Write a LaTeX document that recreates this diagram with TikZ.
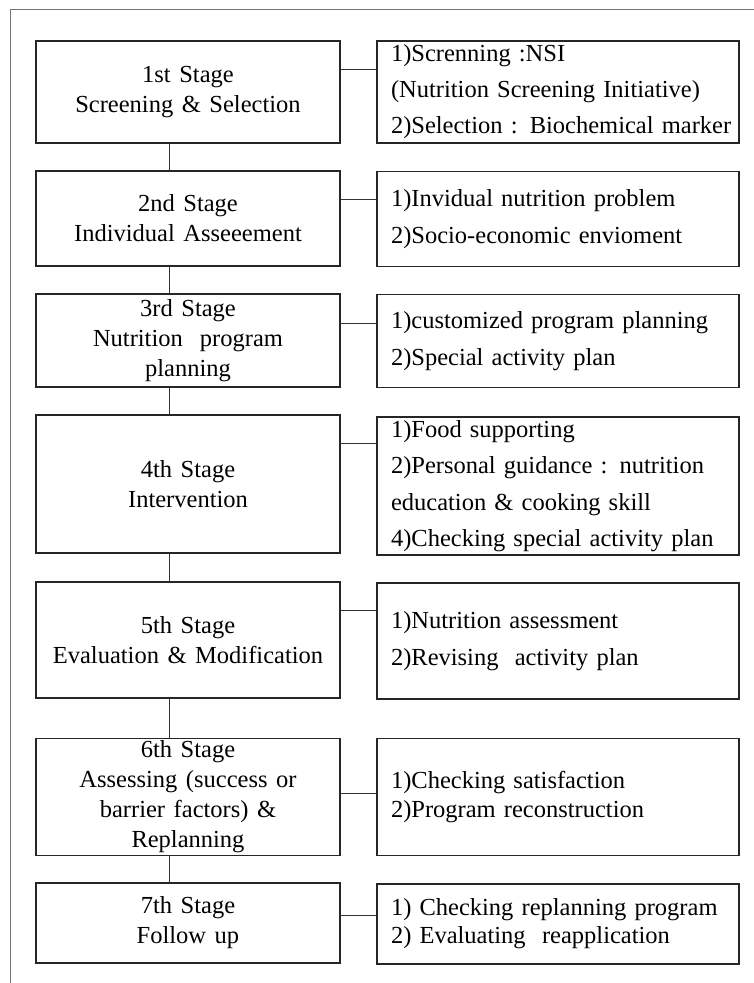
\documentclass[tikz,border=0pt]{standalone}
\usepackage{fontspec}
\setmainfont{Liberation Serif}[WordSpace=1.4]
\begin{document}
\begin{tikzpicture}[x=1pt,y=-1pt,
  stagebox/.style={draw=black!85,line width=1.4pt,minimum width=304pt,inner sep=0pt,align=center,
    font=\fontsize{24.5}{30}\selectfont},
  itembox/.style={draw=black!85,line width=1.4pt,minimum width=362pt,text width=334pt,inner xsep=14pt,inner ysep=0pt,align=left},
  link/.style={draw=black!80,line width=0.9pt},
  frameline/.style={draw=black!55,line width=0.9pt}]
\useasboundingbox (0,0) rectangle (754,983);
\draw[frameline] (10,983) -- (10,9) -- (754,9);
\coordinate (vx) at (169,0);
% left stage boxes
\node[stagebox,minimum height=102pt] (l1) at (188,92) {1st Stage\\Screening \& Selection};
\node[stagebox,minimum height=95pt] (l2) at (188,218.5) {2nd Stage\\Individual Asseeement};
\node[stagebox,minimum height=93pt] (l3) at (188,340.5) {3rd Stage\\Nutrition \ program\\planning};
\node[stagebox,minimum height=138pt] (l4) at (188,484) {4th Stage\\Intervention};
\node[stagebox,minimum height=116pt] (l5) at (188,640) {5th Stage\\Evaluation \& Modification};
\node[stagebox,minimum height=117pt] (l6) at (188,797) {6th Stage\\Assessing (success or\\barrier factors) \&\\Replanning};
\node[stagebox,minimum height=80pt] (l7) at (188,923) {7th Stage\\Follow up};
% right item boxes
\node[itembox,minimum height=102pt,font=\fontsize{24.5}{36}\selectfont] (r1) at (558,92) {1)Screnning :NSI\\(Nutrition Screening Initiative)\\\mbox{2)Selection : Biochemical marker}};
\node[itembox,minimum height=95pt,font=\fontsize{24.5}{37}\selectfont] (r2) at (558,219) {1)Invidual nutrition problem\\2)Socio-economic envioment};
\node[itembox,minimum height=93pt,font=\fontsize{24.5}{37}\selectfont] (r3) at (558,341) {\mbox{1)customized program planning}\\2)Special activity plan};
\node[itembox,minimum height=138pt,font=\fontsize{24.5}{36.5}\selectfont] (r4) at (558,486) {1)Food supporting\\\mbox{2)Personal guidance : nutrition}\\education \& cooking skill\\\mbox{4)Checking special activity plan}};
\node[itembox,minimum height=116pt,font=\fontsize{24.5}{37}\selectfont] (r5) at (558,641) {1)Nutrition assessment\\2)Revising \ activity plan};
\node[itembox,minimum height=117pt,font=\fontsize{24.5}{29}\selectfont] (r6) at (558,797) {1)Checking satisfaction\\2)Program reconstruction};
\node[itembox,minimum height=80pt,font=\fontsize{24.5}{28}\selectfont] (r7) at (558,924) {\mbox{1) Checking replanning program}\\2) Evaluating \ reapplication};
% vertical connectors
\draw[link] (l1.south -| vx) -- (l2.north -| vx);
\draw[link] (l2.south -| vx) -- (l3.north -| vx);
\draw[link] (l3.south -| vx) -- (l4.north -| vx);
\draw[link] (l4.south -| vx) -- (l5.north -| vx);
\draw[link] (l5.south -| vx) -- (l6.north -| vx);
\draw[link] (l6.south -| vx) -- (l7.north -| vx);
% horizontal connectors
\coordinate (h1) at (0,69);
\coordinate (h2) at (0,199);
\coordinate (h3) at (0,323);
\coordinate (h4) at (0,443);
\coordinate (h5) at (0,610);
\coordinate (h6) at (0,793);
\coordinate (h7) at (0,915);
\draw[link] (l1.east |- h1) -- (r1.west |- h1);
\draw[link] (l2.east |- h2) -- (r2.west |- h2);
\draw[link] (l3.east |- h3) -- (r3.west |- h3);
\draw[link] (l4.east |- h4) -- (r4.west |- h4);
\draw[link] (l5.east |- h5) -- (r5.west |- h5);
\draw[link] (l6.east |- h6) -- (r6.west |- h6);
\draw[link] (l7.east |- h7) -- (r7.west |- h7);
\end{tikzpicture}
\end{document}
